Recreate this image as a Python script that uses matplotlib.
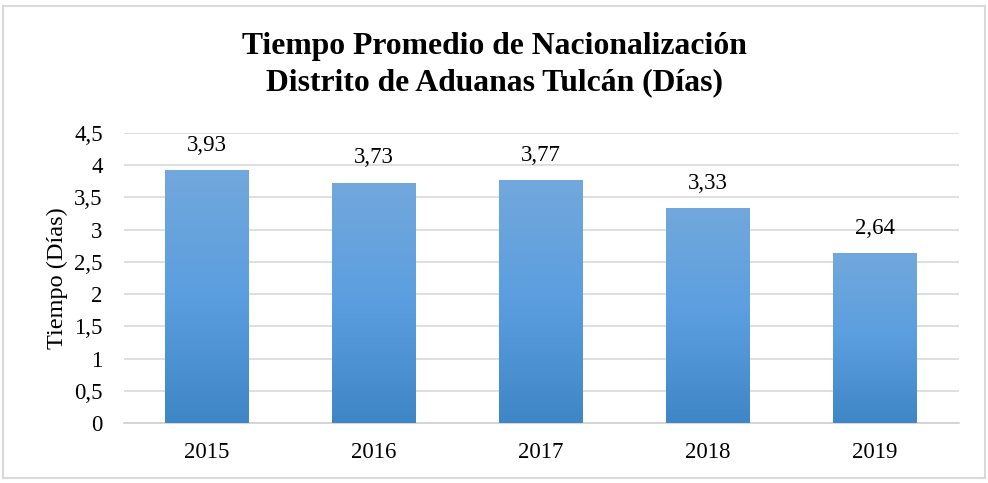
import matplotlib.pyplot as plt
import numpy as np
from matplotlib.patches import Rectangle
from matplotlib.colors import LinearSegmentedColormap

years = ["2015", "2016", "2017", "2018", "2019"]
tiempos = [3.93, 3.73, 3.77, 3.33, 2.64]
labels = ["3,93", "3,73", "3,77", "3,33", "2,64"]
yticks = [0, 0.5, 1, 1.5, 2, 2.5, 3, 3.5, 4, 4.5]
ytick_labels = ["0", "0,5", "1", "1,5", "2", "2,5", "3", "3,5", "4", "4,5"]

plt.rcParams['font.family'] = ['Liberation Serif', 'DejaVu Serif']

fig = plt.figure(figsize=(9.88, 4.83), dpi=100)
ax = fig.add_axes([123.5 / 988, (483 - 423) / 483, 835 / 988, 290 / 483])

x = np.arange(len(years))
bars = ax.bar(x, tiempos, width=0.5, color='none', zorder=3)

# gradient fill clipped to each bar
cmap = LinearSegmentedColormap.from_list("bar", ["#3f86c6", "#5b9ee0", "#72a8dc"])
grad = np.linspace(0, 1, 256).reshape(-1, 1)
for b in bars:
    x0, w, h = b.get_x(), b.get_width(), b.get_height()
    im = ax.imshow(grad, cmap=cmap, aspect='auto', origin='lower',
                   extent=[x0, x0 + w, 0, h], zorder=3)
    im.set_clip_path(b)

for xi, v, lab in zip(x, tiempos, labels):
    ax.text(xi, v + 0.22, lab, ha='center', va='bottom', fontsize=16.5)

ax.set_xlim(-0.5, 4.5)
ax.set_ylim(0, 4.5)
ax.set_xticks(x)
ax.set_xticklabels(years, fontsize=16.5)
ax.set_yticks(yticks)
ax.set_yticklabels(ytick_labels, fontsize=16.5)
ax.tick_params(axis='x', length=0, pad=14)
ax.tick_params(axis='y', length=0, pad=15)
ax.yaxis.grid(True, color='#d9d9d9', linewidth=1.2, zorder=0)
ax.set_axisbelow(True)
for s in ['top', 'right', 'left']:
    ax.spines[s].set_visible(False)
ax.spines['bottom'].set_color('#d0d0d0')
ax.spines['bottom'].set_linewidth(1.2)
ax.set_ylabel("Tiempo (Días)", fontsize=17.5, labelpad=4)

fig.text(0.5, 1 - 65 / 483, "Tiempo Promedio de Nacionalización\nDistrito de Aduanas Tulcán (Días)",
         ha='center', va='center', fontsize=22.8, fontweight='bold', linespacing=1.33)

# outer border
fig.patches.append(Rectangle((3 / 988, 5 / 483), 982 / 988, 472 / 483,
                             transform=fig.transFigure, fill=False,
                             edgecolor='#d9d9d9', linewidth=1.5))

fig.savefig("out.png", dpi=100)
